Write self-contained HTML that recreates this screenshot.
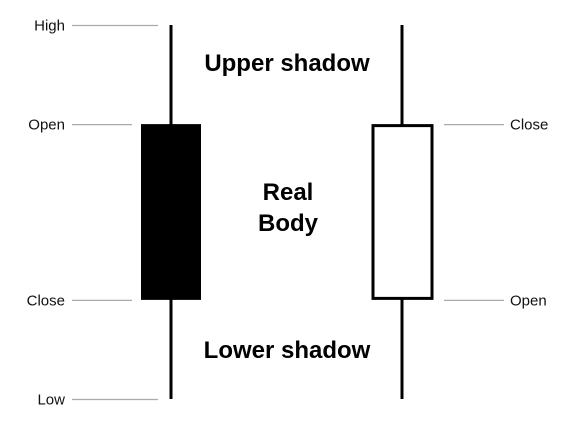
<!DOCTYPE html>
<html><head><meta charset="utf-8"><style>
html,body{margin:0;padding:0;background:#fff;}
svg{display:block;}
.lab{font-family:"Liberation Sans",sans-serif;font-size:15px;fill:#111;}
.big{font-family:"Liberation Sans",sans-serif;font-size:24px;font-weight:bold;fill:#000;}
</style></head><body>
<svg id="chart" width="569" height="427" viewBox="0 0 569 427">
<text class="big" x="287" y="71" text-anchor="middle">Upper shadow</text>
<text class="big" x="288" y="200" text-anchor="middle">Real</text>
<text class="big" x="288" y="231" text-anchor="middle">Body</text>
<text class="big" x="287" y="358" text-anchor="middle">Lower shadow</text>
</svg>
<script>
const candleNames=["bearish-candle","bullish-candle"];
const opens=[73.5,26.5];
const closes=[26.5,73.5];
const highs=[100,100];
const lows=[0,0];
const svg=document.getElementById('chart');
const NS='http://www.w3.org/2000/svg';
function y(v){return 399-v*3.74;}
const cx=[171,402];
function mk(tag,attrs){const e=document.createElementNS(NS,tag);for(const k in attrs)e.setAttribute(k,attrs[k]);svg.appendChild(e);return e;}
for(let i=0;i<opens.length;i++){
  const w=mk('line',{x1:cx[i],x2:cx[i],y1:y(highs[i]),y2:y(lows[i]),stroke:'#000','stroke-width':3});
  
  
  const top=y(Math.max(opens[i],closes[i])),bot=y(Math.min(opens[i],closes[i]));
  const bear=closes[i]<opens[i];
  const b=mk('rect',bear?{x:cx[i]-30,y:top,width:60,height:bot-top,fill:'#000'}:{x:cx[i]-29,y:top+1.5,width:59,height:bot-top-3,fill:'#fff',stroke:'#000','stroke-width':3});
  
  
  const left=i===0;
  const items=left?[["High",highs[i],158],["Open",opens[i],132],["Close",closes[i],132],["Low",lows[i],158]]
                  :[["Close",closes[i]],["Open",opens[i]]];
  items.forEach(it=>{
    const yy=y(it[1])+0.5;
    const l=left?mk('line',{x1:72,x2:it[2],y1:yy,y2:yy,stroke:'#aaa','stroke-width':1.3})
                :mk('line',{x1:444,x2:504,y1:yy,y2:yy,stroke:'#aaa','stroke-width':1.3});
    
    
    const t=mk('text',left?{x:65,y:yy+5,'text-anchor':'end',class:'lab'}:{x:510,y:yy+5,class:'lab'});
    t.textContent=it[0];
    
    
  });
}
</script>
</body></html>
